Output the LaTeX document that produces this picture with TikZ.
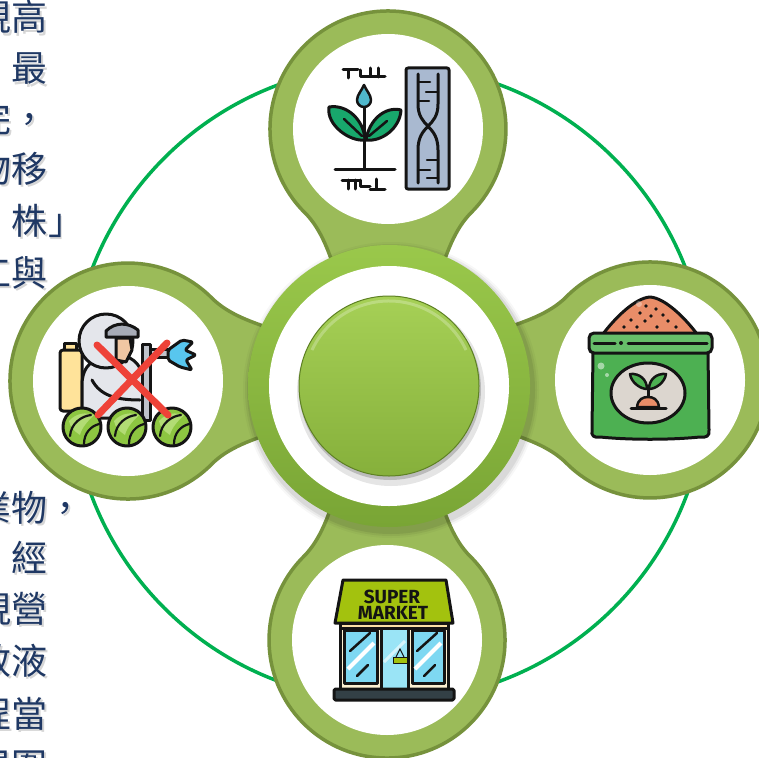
\documentclass[tikz,border=0pt]{standalone}
\usepackage{fontspec}
\newfontfamily\cjkfont{Noto Sans CJK TC}
\newfontfamily\signfont{Fira Sans}
\usetikzlibrary{calc}

\definecolor{textblue}{HTML}{1F3864}
\definecolor{orbit}{HTML}{00B050}
\definecolor{ringgreen}{HTML}{9BBB59}
\definecolor{ringedge}{HTML}{76923C}
\definecolor{hubtop}{HTML}{9AC84B}
\definecolor{hubbottom}{HTML}{79A535}
\definecolor{btntop}{HTML}{A6D056}
\definecolor{btnbottom}{HTML}{86B03B}
\definecolor{btnedge}{HTML}{5E8124}
\definecolor{inkc}{HTML}{141414}
\definecolor{leafgreen}{HTML}{18A86C}
\definecolor{dropblue}{HTML}{4FB8CC}
\definecolor{dnablue}{HTML}{A9B9D0}
\definecolor{tankyellow}{HTML}{FFE39A}
\definecolor{suitgray}{HTML}{E4E6EB}
\definecolor{visorgray}{HTML}{A7ACB7}
\definecolor{skin}{HTML}{F1C7A3}
\definecolor{lancegray}{HTML}{BFC3CB}
\definecolor{sprayblue}{HTML}{58C6EE}
\definecolor{cabbage}{HTML}{8DC641}
\definecolor{cabbagelight}{HTML}{B2DC74}
\definecolor{xred}{HTML}{EE4238}
\definecolor{pile}{HTML}{E98D68}
\definecolor{baggreen}{HTML}{4DB052}
\definecolor{bandgreen}{HTML}{66BE69}
\definecolor{labelgray}{HTML}{DCD6CF}
\definecolor{awning}{HTML}{A3C20E}
\definecolor{cream}{HTML}{FCF0D2}
\definecolor{creamband}{HTML}{FBE0A6}
\definecolor{glass}{HTML}{7ED8F2}
\definecolor{doorglass}{HTML}{9AE4F6}
\definecolor{basecol}{HTML}{334046}

\tikzset{
  cjktext/.style={font=\cjkfont\fontsize{36}{36}\selectfont, text=textblue,
    inner sep=0pt, outer sep=0pt, anchor=base west},
  cjkshadow/.style={cjktext, text=black, opacity=0.16},
  icon/.style={draw=inkc, line width=3pt, line join=round},
  iconline/.style={draw=inkc, line width=3pt, line cap=round, line join=round},
  signtext/.style={font=\signfont\bfseries\fontsize{19}{19}\selectfont, text=inkc, inner sep=0pt},
  satring/.style={fill=ringgreen, draw=ringedge, line width=3.5pt}
}

% one text line: name, vertical centre, characters (first cell starts at x=-24)
\newcommand\cjkline[3]{%
  \node[cjkshadow] at (-22.5,#2+16.5) {#3};
  \node[cjktext] (#1) at (-24,#2+14) {#3};}

% ring with a neck pointing along the local x axis towards the hub
\newcommand\satellite[2]{%
  \begin{scope}[shift={#1}, rotate=#2]
    \path[satring] (83.4,83.4) .. controls (101,65.7) and (126.5,58) .. (150,50)
      -- (150,-50) .. controls (126.5,-58) and (101,-65.7) .. (83.4,-83.4)
      arc[start angle=-45, end angle=-315, radius=118] -- cycle;
    \fill[white] (0,0) circle[radius=95];
  \end{scope}}

\begin{document}
\begin{tikzpicture}[x=1pt,y=-1pt]
\useasboundingbox (0,0) rectangle (759,757);
\clip (0,0) rectangle (759,757);
\fill[white] (0,0) rectangle (759,757);

% ---- side text ----
\cjkline{t1}{17}{視高}
\cjkline{t2}{68}{\hspace{36pt}最}
\cjkline{t3}{118}{完，}
\cjkline{t4}{168}{物移}
\cjkline{t5}{220}{\hspace{36pt}株」}
\cjkline{t6}{272}{工與}
\cjkline{b1}{507}{業物，}
\cjkline{b2}{557}{\hspace{36pt}經}
\cjkline{b3}{608}{現營}
\cjkline{b4}{660}{效液}
\cjkline{b5}{713}{程當}
\cjkline{b6}{765}{周圍}

% ---- orbit ----
\draw[orbit, line width=3.5pt] (389,383) circle[radius=318];

% ---- satellites ----
\satellite{(388,129)}{-90}
\satellite{(128,381)}{0}
\satellite{(650,380)}{180}
\satellite{(387,640)}{90}

% ---- hub ----
\foreach \r/\o in {148/0.03,146/0.05,144/0.07}
  \fill[black, opacity=\o] (391,390) circle[radius=\r];
\shade[top color=hubtop, bottom color=hubbottom] (389,386) circle[radius=141];
\fill[white] (389,386) circle[radius=120];
\fill[black, opacity=0.10] (391,392) circle[radius=94];
\fill[black, opacity=0.18] (390,389) circle[radius=91];
\shadedraw[top color=btntop, bottom color=btnbottom, draw=btnedge, line width=1pt]
  (389,386) circle[radius=90];
\draw[white, opacity=0.25, line width=3pt]
  (389,386) ++(205:85) arc[start angle=205, end angle=335, radius=85];

% ---- top icon: plant and DNA ----
\draw[icon, fill=dnablue, rounded corners=2pt] (406,68) rectangle (449,189);
\draw[iconline] (418,74) -- (418,104) .. controls (418,128) and (438,124) .. (438,150) -- (438,183);
\draw[iconline] (438,74) -- (438,104) .. controls (438,128) and (418,124) .. (418,150) -- (418,183);
\draw[iconline, line width=2.5pt] (418,82) -- (430,82) (426,92) -- (438,92) (418,101) -- (429,101)
  (427,160) -- (438,160) (418,170) -- (430,170) (427,178) -- (438,178);
\draw[iconline] (335,169) -- (395,169);
\draw[iconline] (364,108) -- (364,169);
\draw[icon, fill=leafgreen] (365,140) .. controls (350,142) and (326,125) .. (329,107)
  .. controls (347,104) and (364,120) .. (365,140) -- cycle;
\draw[iconline, line width=2.5pt] (362,136) -- (344,119);
\draw[icon, fill=leafgreen] (366,140) .. controls (369,120) and (385,106) .. (401,110)
  .. controls (400,128) and (382,142) .. (366,140) -- cycle;
\draw[iconline, line width=2.5pt] (369,136) -- (387,121);
\draw[icon, line width=2.5pt, fill=dropblue] (364,85) .. controls (366,90) and (371,95) .. (371,100)
  arc[start angle=0, end angle=180, radius=7] .. controls (357,95) and (362,90) .. (364,85) -- cycle;
\draw[iconline] (343,70) -- (358,70) (348,70) -- (348,78) (360,70) -- (360,77) -- (370,77)
  (370,68) -- (370,77) -- (385,77) (378,68) -- (378,77);
\draw[iconline] (342,180) -- (360,180) (348,180) -- (348,189) (355,180) -- (355,189)
  (360,180) -- (360,186) -- (370,186) (376,179) -- (376,189) (370,189) -- (385,189);

% ---- left icon: sprayer crossed out ----
\draw[icon, fill=tankyellow] (64,343) rectangle (76,350);
\draw[icon, fill=tankyellow, rounded corners=3pt] (60,350) rectangle (82,411);
\draw[icon, fill=suitgray] (82,418) -- (82,385) .. controls (82,365) and (95,356) .. (112,356)
  -- (125,356) .. controls (138,360) and (145,372) .. (145,390) -- (145,418) -- cycle;
\draw[icon, fill=suitgray] (106,341) circle[radius=27];
\draw[icon, fill=skin] (116,338) -- (130,338) -- (132,350) -- (126,362) -- (116,360) -- cycle;
\draw[icon, fill=visorgray] (106,331) .. controls (115,322) and (128,322) .. (138,330)
  -- (138,337) -- (106,337) -- cycle;
\draw[iconline] (92,380) .. controls (100,395) and (115,400) .. (140,400);
\draw[icon, fill=lancegray] (150,349) rectangle (168,357);
\draw[icon, fill=lancegray] (142,344) rectangle (150,420);
\draw[icon, fill=sprayblue, rounded corners=2pt] (168,350) -- (182,340) -- (193,342) -- (185,350)
  -- (196,355) -- (186,360) -- (192,370) -- (180,367) -- (168,360) -- cycle;
\foreach \cx in {82,127,172}{
  \begin{scope}[shift={(\cx,427)}]
    \draw[icon, fill=cabbage] (0,0) circle[radius=19];
    \fill[cabbagelight] (-13,-6) .. controls (-6,-14) and (4,-15) .. (12,-12)
      .. controls (6,-6) and (0,0) .. (-2,8) .. controls (-8,4) and (-12,0) .. (-13,-6) -- cycle;
    \draw[iconline, line width=2.2pt] (-12,9) .. controls (-11,-4) and (0,-11) .. (9,-12);
    \draw[iconline, line width=2.2pt] (2,17) .. controls (2,6) and (9,-1) .. (17,-3);
  \end{scope}}
\draw[xred, line width=7pt, line cap=round] (97,345) -- (168,415) (167,343) -- (98,415);

% ---- right icon: fertiliser bag ----
\draw[icon, fill=pile] (603,334) .. controls (615,318) and (635,298) .. (650,297)
  .. controls (665,298) and (685,318) .. (697,334) -- cycle;
\foreach \p in {(646,306),(656,309),(640,313),(651,316),(663,315),(631,320),(645,321),
  (668,321),(624,327),(637,327),(657,327),(676,327)}
  \fill[inkc] \p circle[radius=1.9];
\fill[white, opacity=0.35] (639,304) circle[radius=3];
\draw[icon, fill=baggreen] (593,352) -- (592,430) .. controls (591,436) and (594,438) .. (600,437)
  .. controls (630,440) and (670,440) .. (700,437) .. controls (706,438) and (710,436) .. (709,430)
  -- (708,352);
\fill[white, opacity=0.5] (601,366) circle[radius=3.5] (607,375) circle[radius=2];
\draw[icon, fill=bandgreen, rounded corners=5pt] (589,333) rectangle (712,353);
\draw[iconline] (594,343) -- (615,343) (628,343) -- (707,343);
\fill[inkc] (621,343) circle[radius=2];
\draw[icon, fill=labelgray] (648,393) ellipse[x radius=37, y radius=30];
\draw[iconline] (648,386) -- (648,400);
\draw[icon, line width=2.5pt, fill=baggreen] (647,389) .. controls (640,389) and (631,382) .. (630,374)
  .. controls (640,373) and (647,380) .. (647,389) -- cycle;
\draw[icon, line width=2.5pt, fill=baggreen] (649,389) .. controls (656,389) and (665,382) .. (666,374)
  .. controls (656,373) and (649,380) .. (649,389) -- cycle;
\draw[icon, line width=2.5pt, fill=pile] (637,407) .. controls (638,399) and (643,397) .. (648,397)
  .. controls (653,397) and (658,399) .. (659,407) -- cycle;
\draw[iconline] (631,408) -- (666,408);

% ---- bottom icon: supermarket ----
\draw[icon, fill=cream] (340,623) rectangle (448,690);
\draw[icon, fill=creamband] (340,623) rectangle (448,628);
\draw[icon, fill=glass] (344,630) rectangle (377,683);
\draw[icon, fill=doorglass] (381,628) rectangle (408,690);
\draw[icon, fill=glass] (412,630) rectangle (444,683);
\draw[white, line width=4pt] (348,669) -- (374,643) (415,669) -- (441,643);
\draw[white, opacity=0.6, line width=3pt] (384,662) -- (405,641);
\draw[iconline, line width=2.5pt] (350,651) -- (370,633) (357,676) -- (368,665)
  (417,651) -- (437,633) (424,676) -- (435,665);
\draw[inkc, line width=1pt] (396,657) -- (400,649) -- (404,657);
\draw[icon, line width=1pt, fill=awning] (393,657) rectangle (407,663);
\draw[icon, fill=awning] (343,580) -- (446,580) -- (453,623) -- (335,623) -- cycle;
\node[signtext] (super) at (392,596.5) {SUPER};
\node[signtext] (market) at (393,613) {MARKET};
\draw[icon, fill=basecol, rounded corners=1.5pt] (334,689) rectangle (454,700);

\end{tikzpicture}
\end{document}
